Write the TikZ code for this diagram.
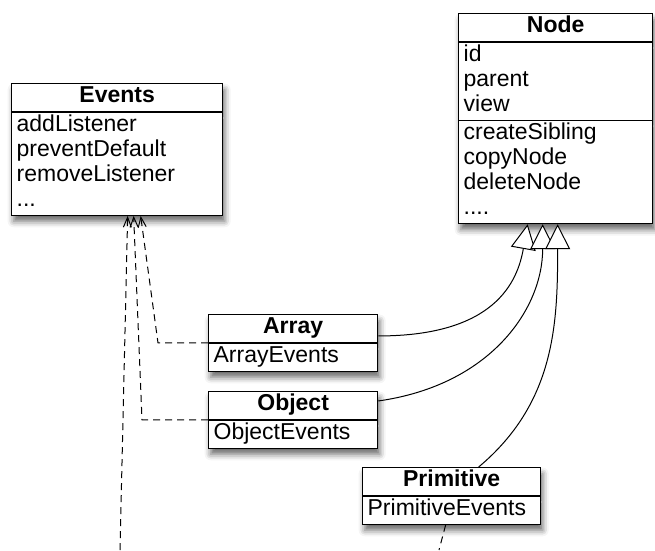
\documentclass[tikz,border=0pt]{standalone}
\usepackage{fontspec}
\setmainfont{Liberation Sans}
\usetikzlibrary{positioning, calc, shapes.multipart, arrows.meta, shadows.blur}
\tikzstyle{Inherit} = [
%solid line with open triangle head:
line width=1pt,
-{Triangle[open, fill=white, length=25pt, width=25pt, line width=1pt]}
]
\tikzstyle{Uses} = [
%dashed line with stick head:
line width=1pt, dash pattern=on 7pt off 5pt,
-{Straight Barb[length=10pt, width=8pt, line width=1pt]}
]

\begin{document}
\begin{tikzpicture}[x=1pt, y=-1pt,
      umlclass/.style = {rectangle split, draw, fill=white, line width=1.3pt,
        text width=#1, align=left, inner xsep=5pt, inner ysep=1pt,
        font=\fontsize{23}{25}\selectfont, anchor=north west,
        blur shadow={shadow xshift=2pt, shadow yshift=-6pt, shadow blur radius=6pt, shadow opacity=60}},
      umlclass/.default = 159pt,
    ]
    \useasboundingbox (0,0) rectangle (655,550);

    \node[umlclass=201pt, rectangle split parts=2](Events) at (11,83)
      {\hbox to\hsize{\hss\textbf{Events}\strut\hss}
       \nodepart{two}\strut addListener\\ \strut preventDefault\\ \strut removeListener\\ \strut ...};
    \node[umlclass=184pt, rectangle split parts=3](Node) at (458,13)
      {\hbox to\hsize{\hss\textbf{Node}\strut\hss}
       \nodepart{two}\strut id\\ \strut parent\\ \strut view
       \nodepart{three}\strut createSibling\\ \strut copyNode\\ \strut deleteNode\\ \strut ....};
    \node[umlclass, rectangle split parts=2](Array) at (208,314)
      {\hbox to\hsize{\hss\textbf{Array}\strut\hss} \nodepart{two}\strut ArrayEvents};
    \node[umlclass, rectangle split parts=2](Object) at (208,391)
      {\hbox to\hsize{\hss\textbf{Object}\strut\hss} \nodepart{two}\strut ObjectEvents};
    \node[umlclass=168pt, rectangle split parts=2](Primitive) at (362,467)
      {\hbox to\hsize{\hss\textbf{Primitive}\strut\hss} \nodepart{two}\strut PrimitiveEvents};

    \coordinate(lowL) at (120,550);
    \coordinate(lowP) at (439,550);

    \draw[Inherit]([yshift=7pt]Array.east) to[out=0, in=-100, out looseness=1.6, in looseness=0.8] ([xshift=-28pt]Node.south);
    \draw[Inherit]([yshift=19pt]Object.east) to[out=8, in=-90, out looseness=1.2, in looseness=0.9] ([xshift=-13pt]Node.south);
    \draw[Inherit]([xshift=27pt]Primitive.north) to[out=40, in=-90] ([xshift=2pt]Node.south);

    \draw[Uses](Array.west) -- ++(-50,0) -- ([xshift=23.5pt]Events.south);
    \draw[Uses](Object.west) -- ++(-66,0) -- ([xshift=16.5pt]Events.south);
    \draw[Uses](lowL) -- ([xshift=10.5pt]Events.south);
    \draw[line width=1pt, dash pattern=on 7pt off 5pt]([xshift=-6pt]Primitive.south) -- (lowP);
\end{tikzpicture}
\end{document}
